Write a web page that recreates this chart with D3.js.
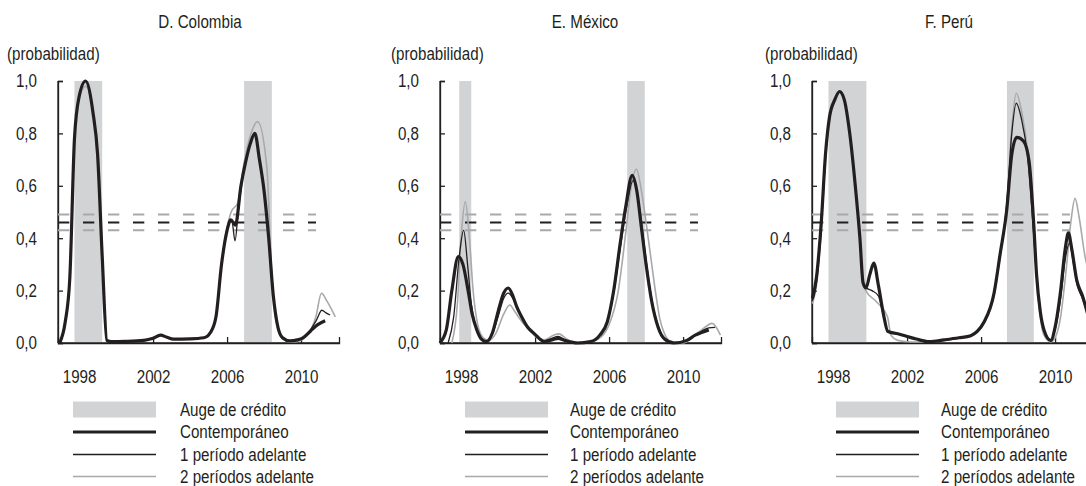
<!DOCTYPE html>
<html>
<head>
<meta charset="utf-8">
<script src="https://cdn.jsdelivr.net/npm/d3@7"></script>
<style>
  body { margin: 0; background: #fff; }
  svg text {
    font-family: "Liberation Sans", Arial, sans-serif;
    font-size: 18.5px;
    fill: #231f20;
  }
</style>
</head>
<body>
<svg id="chart" width="1086" height="486"></svg>
<script>
// ---- Data -----------------------------------------------------------------
// Probabilities of a credit boom, by horizon. Points are [year, probability].

const colombiaTitle = "D. Colombia";
const mexicoTitle = "E. México";
const peruTitle = "F. Perú";

const colombiaBooms = [[1997.75, 1999.25], [2006.92, 2008.42]];
const mexicoBooms = [[1997.9, 1998.55], [2006.98, 2007.93]];
const peruBooms = [[1997.75, 1999.8], [2007.4, 2008.85]];

const thresholds = [0.49, 0.46, 0.43];

const yTicks = [0, 0.2, 0.4, 0.6, 0.8, 1.0];
const yTickLabels = ["0,0", "0,2", "0,4", "0,6", "0,8", "1,0"];
const xTicks = [1998, 2002, 2006, 2010];
const xTickLabels = ["1998", "2002", "2006", "2010"];

const legendLabels = ["Auge de crédito", "Contemporáneo", "1 período adelante", "2 períodos adelante"];
const unitLabel = "(probabilidad)";

const colombiaContemporaneo = [
  [1996.95, 0.0], [1997.25, 0.08], [1997.5, 0.25], [1997.75, 0.78], [1998.0, 0.94],
  [1998.35, 1.0], [1998.75, 0.88], [1999.0, 0.72], [1999.25, 0.33], [1999.5, 0.01],
  [1999.75, 0.005], [2000.5, 0.006], [2001.5, 0.01], [2002.0, 0.018], [2002.4, 0.03],
  [2002.75, 0.022], [2003.1, 0.015], [2004.0, 0.016], [2004.75, 0.02], [2005.1, 0.04],
  [2005.4, 0.1], [2005.7, 0.3], [2006.0, 0.43], [2006.2, 0.47], [2006.45, 0.45],
  [2006.75, 0.6], [2007.0, 0.69], [2007.25, 0.76], [2007.5, 0.80], [2007.75, 0.7],
  [2008.0, 0.58], [2008.25, 0.4], [2008.5, 0.18], [2008.75, 0.06], [2009.0, 0.02],
  [2009.4, 0.008], [2009.8, 0.012], [2010.1, 0.02], [2010.5, 0.045], [2010.9, 0.07],
  [2011.3, 0.085]
];
const colombiaUnPeriodo = [
  [1996.95, 0.0], [1997.25, 0.08], [1997.5, 0.25], [1997.75, 0.78], [1998.0, 0.94],
  [1998.35, 1.0], [1998.75, 0.88], [1999.0, 0.72], [1999.25, 0.33], [1999.5, 0.01],
  [1999.75, 0.005], [2000.5, 0.006], [2001.5, 0.01], [2002.0, 0.018], [2002.4, 0.03],
  [2002.75, 0.022], [2003.1, 0.015], [2004.0, 0.016], [2004.75, 0.02], [2005.1, 0.04],
  [2005.4, 0.1], [2005.7, 0.3], [2006.0, 0.43], [2006.25, 0.47], [2006.43, 0.39],
  [2006.6, 0.5], [2006.8, 0.61], [2007.0, 0.69], [2007.25, 0.76], [2007.5, 0.80],
  [2007.75, 0.7], [2008.0, 0.58], [2008.25, 0.4], [2008.5, 0.18], [2008.75, 0.06],
  [2009.0, 0.02], [2009.4, 0.008], [2009.8, 0.012], [2010.1, 0.02], [2010.5, 0.05],
  [2010.85, 0.09], [2011.12, 0.125], [2011.35, 0.115], [2011.57, 0.107]
];
const colombiaDosPeriodos = [
  [1996.95, 0.0], [1997.25, 0.08], [1997.5, 0.25], [1997.75, 0.78], [1998.0, 0.93],
  [1998.35, 0.98], [1998.75, 0.88], [1999.0, 0.72], [1999.25, 0.33], [1999.5, 0.01],
  [1999.75, 0.005], [2000.5, 0.006], [2001.5, 0.01], [2002.0, 0.018], [2002.4, 0.03],
  [2002.75, 0.022], [2003.1, 0.015], [2004.0, 0.016], [2004.75, 0.02], [2005.1, 0.04],
  [2005.4, 0.1], [2005.7, 0.3], [2006.0, 0.44], [2006.22, 0.5], [2006.58, 0.535],
  [2006.9, 0.68], [2007.25, 0.79], [2007.65, 0.845], [2008.15, 0.67], [2008.4, 0.28],
  [2008.65, 0.08], [2009.0, 0.015], [2009.4, 0.004], [2009.8, 0.006], [2010.1, 0.015],
  [2010.5, 0.045], [2010.8, 0.1], [2011.1, 0.19], [2011.4, 0.16], [2011.85, 0.1]
];

const mexicoContemporaneo = [
  [1996.85, 0.0], [1997.2, 0.05], [1997.5, 0.2], [1997.85, 0.33], [1998.1, 0.3],
  [1998.38, 0.2], [1998.6, 0.11], [1998.85, 0.05], [1999.1, 0.015], [1999.37, 0.005],
  [1999.7, 0.04], [2000.0, 0.12], [2000.3, 0.19], [2000.55, 0.21], [2000.8, 0.18],
  [2001.0, 0.14], [2001.27, 0.1], [2001.6, 0.06], [2001.97, 0.035], [2002.5, 0.005],
  [2002.9, 0.012], [2003.25, 0.018], [2003.6, 0.01], [2004.3, 0.0], [2005.0, 0.005],
  [2005.5, 0.03], [2005.9, 0.08], [2006.25, 0.2], [2006.6, 0.38], [2006.9, 0.52],
  [2007.25, 0.64], [2007.5, 0.58], [2007.75, 0.44], [2008.0, 0.3], [2008.3, 0.16],
  [2008.65, 0.06], [2009.0, 0.015], [2009.5, 0.0], [2010.2, 0.01], [2010.66, 0.03],
  [2011.0, 0.04], [2011.39, 0.05]
];
const mexicoUnPeriodo = [
  [1997.3, 0.0], [1997.6, 0.1], [1997.9, 0.33], [1998.14, 0.43], [1998.35, 0.3],
  [1998.55, 0.15], [1998.8, 0.06], [1999.1, 0.015], [1999.4, 0.005], [1999.7, 0.035],
  [2000.0, 0.1], [2000.3, 0.17], [2000.55, 0.19], [2000.8, 0.17], [2001.0, 0.14],
  [2001.27, 0.1], [2001.6, 0.06], [2001.97, 0.035], [2002.5, 0.008], [2002.9, 0.018],
  [2003.25, 0.025], [2003.6, 0.012], [2004.3, 0.0], [2005.0, 0.005], [2005.5, 0.03],
  [2005.9, 0.08], [2006.25, 0.19], [2006.6, 0.36], [2006.9, 0.5], [2007.3, 0.62],
  [2007.55, 0.56], [2007.8, 0.43], [2008.05, 0.29], [2008.35, 0.15], [2008.7, 0.055],
  [2009.05, 0.012], [2009.5, 0.0], [2010.2, 0.01], [2010.66, 0.03], [2011.0, 0.045],
  [2011.4, 0.058], [2011.73, 0.06]
];
const mexicoDosPeriodos = [
  [1997.5, 0.0], [1997.8, 0.15], [1998.0, 0.4], [1998.23, 0.54], [1998.45, 0.4],
  [1998.65, 0.2], [1998.9, 0.07], [1999.2, 0.02], [1999.5, 0.01], [1999.9, 0.04],
  [2000.3, 0.11], [2000.63, 0.145], [2000.9, 0.12], [2001.3, 0.08], [2001.7, 0.05],
  [2002.1, 0.02], [2002.5, 0.012], [2003.0, 0.03], [2003.3, 0.035], [2003.7, 0.015],
  [2004.3, 0.002], [2005.0, 0.005], [2005.6, 0.025], [2006.0, 0.07], [2006.5, 0.2],
  [2006.9, 0.42], [2007.2, 0.6], [2007.48, 0.663], [2007.75, 0.58], [2008.0, 0.46],
  [2008.25, 0.33], [2008.5, 0.2], [2008.75, 0.09], [2009.0, 0.035], [2009.3, 0.008],
  [2010.0, 0.0], [2010.6, 0.03], [2011.0, 0.05], [2011.57, 0.075], [2012.02, 0.03]
];

const peruContemporaneo = [
  [1996.88, 0.17], [1997.1, 0.25], [1997.35, 0.45], [1997.6, 0.73], [1997.8, 0.86],
  [1998.1, 0.93], [1998.35, 0.96], [1998.6, 0.93], [1998.9, 0.8], [1999.2, 0.6],
  [1999.45, 0.4], [1999.62, 0.23], [1999.78, 0.21], [1999.98, 0.26], [2000.2, 0.305],
  [2000.45, 0.22], [2000.75, 0.1], [2000.95, 0.045], [2001.5, 0.035], [2002.0, 0.025],
  [2002.5, 0.015], [2003.2, 0.005], [2004.0, 0.012], [2004.8, 0.02], [2005.44, 0.028],
  [2005.8, 0.045], [2006.16, 0.08], [2006.7, 0.19], [2007.03, 0.34], [2007.39, 0.51],
  [2007.66, 0.72], [2007.93, 0.785], [2008.3, 0.77], [2008.6, 0.69], [2008.85, 0.45],
  [2009.0, 0.26], [2009.2, 0.12], [2009.4, 0.05], [2009.77, 0.01], [2010.0, 0.06],
  [2010.3, 0.2], [2010.55, 0.36], [2010.72, 0.42], [2010.9, 0.36], [2011.17, 0.24],
  [2011.48, 0.18], [2011.8, 0.1]
];
const peruUnPeriodo = [
  [1996.88, 0.16], [1997.1, 0.23], [1997.35, 0.43], [1997.6, 0.72], [1997.8, 0.86],
  [1998.1, 0.93], [1998.35, 0.96], [1998.6, 0.93], [1998.9, 0.8], [1999.2, 0.6],
  [1999.45, 0.4], [1999.62, 0.23], [1999.8, 0.21], [2000.1, 0.2], [2000.45, 0.18],
  [2000.7, 0.11], [2000.95, 0.045], [2001.5, 0.035], [2002.0, 0.025], [2002.5, 0.015],
  [2003.2, 0.005], [2004.0, 0.012], [2004.8, 0.02], [2005.44, 0.028], [2005.8, 0.045],
  [2006.16, 0.08], [2006.7, 0.19], [2007.03, 0.34], [2007.39, 0.53], [2007.66, 0.8],
  [2007.9, 0.915], [2008.2, 0.85], [2008.5, 0.72], [2008.8, 0.46], [2009.0, 0.26],
  [2009.2, 0.12], [2009.4, 0.05], [2009.77, 0.01], [2010.0, 0.05], [2010.3, 0.17],
  [2010.55, 0.32], [2010.78, 0.38], [2011.0, 0.3], [2011.2, 0.22], [2011.48, 0.17],
  [2011.8, 0.1]
];
const peruDosPeriodos = [
  [1996.88, 0.15], [1997.1, 0.22], [1997.35, 0.42], [1997.6, 0.71], [1997.8, 0.85],
  [1998.1, 0.93], [1998.35, 0.955], [1998.6, 0.93], [1998.9, 0.8], [1999.2, 0.6],
  [1999.45, 0.4], [1999.62, 0.24], [1999.77, 0.2], [2000.3, 0.16], [2000.94, 0.1],
  [2001.13, 0.03], [2001.5, 0.01], [2002.0, 0.005], [2002.5, 0.004], [2003.2, 0.004],
  [2004.0, 0.01], [2004.8, 0.018], [2005.44, 0.026], [2005.8, 0.04], [2006.16, 0.075],
  [2006.7, 0.18], [2007.03, 0.33], [2007.39, 0.53], [2007.66, 0.82], [2007.9, 0.953],
  [2008.2, 0.88], [2008.5, 0.74], [2008.8, 0.46], [2009.0, 0.25], [2009.2, 0.1],
  [2009.4, 0.03], [2009.77, 0.005], [2010.0, 0.02], [2010.3, 0.1], [2010.6, 0.28],
  [2010.85, 0.46], [2011.08, 0.552], [2011.3, 0.48], [2011.62, 0.33], [2011.9, 0.25]
];

// ---- Layout ---------------------------------------------------------------
const panels = [
  { title: colombiaTitle, booms: colombiaBooms, series: [colombiaDosPeriodos, colombiaUnPeriodo, colombiaContemporaneo],
    axisX: 58, titleX: 200, unitX: 7, legendX: 73, legendTextX: 180 },
  { title: mexicoTitle, booms: mexicoBooms, series: [mexicoDosPeriodos, mexicoUnPeriodo, mexicoContemporaneo],
    axisX: 440, titleX: 585, unitX: 391, legendX: 465, legendTextX: 570 },
  { title: peruTitle, booms: peruBooms, series: [peruDosPeriodos, peruUnPeriodo, peruContemporaneo],
    axisX: 812, titleX: 949, unitX: 765, legendX: 836, legendTextX: 941 }
];

const INK = "#231f20";
const GREY_LINE = "#a7a9ac";
const BAND = "#d1d3d4";
const seriesStyle = [
  { stroke: GREY_LINE, width: 1.6 },   // 2 períodos adelante
  { stroke: INK, width: 1.3 },         // 1 período adelante
  { stroke: INK, width: 3.2 }          // Contemporáneo
];
const thresholdStyle = [GREY_LINE, INK, GREY_LINE];

const plotW = 281, yTop = 81, yBottom = 343, dashLen = 258;
const legendRows = [409.5, 432, 454.5, 476.5];
const FONT = '"Liberation Sans", Arial, sans-serif';
const SQUEEZE = 0.82;   // condensed lettering

const svg = d3.select("#chart");
svg.append("rect").attr("width", 1086).attr("height", 486).attr("fill", "#fff");

panels.forEach(p => {
  const x = d3.scaleLinear().domain([1996.86, 2012.05]).range([p.axisX, p.axisX + plotW]);
  const y = d3.scaleLinear().domain([0, 1]).range([yBottom, yTop]);
  const g = svg.append("g");

  // Titles
  g.append("text").attr("x", p.titleX).attr("y", 28.5).attr("text-anchor", "middle").text(p.title);
  g.append("text").attr("x", p.unitX).attr("y", 60.5).text(unitLabel);

  // Axes with inward ticks (drawn before the shading so the bands cover them)
  const xAxis = d3.axisBottom(x).tickValues(xTicks).tickFormat((d, i) => xTickLabels[i])
    .tickSizeInner(-6).tickSizeOuter(-6).tickPadding(27);
  const yAxis = d3.axisLeft(y).tickValues(yTicks).tickFormat((d, i) => yTickLabels[i])
    .tickSizeInner(-5).tickSizeOuter(-5).tickPadding(21);

  const gx = g.append("g").attr("transform", `translate(0,${yBottom})`).call(xAxis);
  const gy = g.append("g").attr("transform", `translate(${p.axisX},0)`).call(yAxis);
  [gx, gy].forEach(a => {
    a.attr("font-size", null).attr("font-family", null);
    a.selectAll("path, line").attr("stroke", INK).attr("stroke-width", 1.3);
    a.selectAll("text").attr("fill", INK).style("font-size", "18.5px").style("font-family", FONT);
  });

  // Credit boom shading
  g.append("g").selectAll("rect").data(p.booms).join("rect")
    .attr("x", d => x(d[0])).attr("width", d => x(d[1]) - x(d[0]))
    .attr("y", y(1)).attr("height", y(0) - y(1))
    .attr("fill", BAND);

  // Axis lines on top of the shading
  g.append("line").attr("x1", p.axisX).attr("x2", p.axisX + plotW).attr("y1", yBottom).attr("y2", yBottom)
    .attr("stroke", INK).attr("stroke-width", 1.3);
  g.append("line").attr("x1", p.axisX).attr("x2", p.axisX).attr("y1", yTop).attr("y2", yBottom)
    .attr("stroke", INK).attr("stroke-width", 1.3);

  // Threshold lines
  g.append("g").selectAll("line").data(thresholds).join("line")
    .attr("x1", p.axisX).attr("x2", p.axisX + dashLen)
    .attr("y1", d => y(d)).attr("y2", d => y(d))
    .attr("stroke", (d, i) => thresholdStyle[i]).attr("stroke-width", 2)
    .attr("stroke-dasharray", "11.3,13.7");

  // Probability curves
  const line = d3.line().x(d => x(d[0])).y(d => y(d[1])).curve(d3.curveMonotoneX);
  g.append("g").selectAll("path").data(p.series).join("path")
    .attr("d", line).attr("fill", "none")
    .attr("stroke", (d, i) => seriesStyle[i].stroke)
    .attr("stroke-width", (d, i) => seriesStyle[i].width)
    .attr("stroke-linejoin", "round");

  // Legend
  const lg = g.append("g");
  lg.append("rect").attr("x", p.legendX).attr("y", legendRows[0] - 8).attr("width", 83).attr("height", 16).attr("fill", BAND);
  [2, 1, 0].forEach((si, k) => {
    lg.append("line").attr("x1", p.legendX).attr("x2", p.legendX + 83)
      .attr("y1", legendRows[k + 1]).attr("y2", legendRows[k + 1])
      .attr("stroke", seriesStyle[si].stroke).attr("stroke-width", seriesStyle[si].width);
  });
  lg.selectAll("text").data(legendLabels).join("text")
    .attr("x", p.legendTextX).attr("y", (d, i) => legendRows[i] + 6.3).text(d => d);
});

// Condensed lettering: scale each label horizontally about its own anchor
svg.selectAll("text").each(function () {
  const ax = +(this.getAttribute("x") || 0);
  this.setAttribute("transform", `translate(${ax},0) scale(${SQUEEZE},1) translate(${-ax},0)`);
});
</script>
</body>
</html>
